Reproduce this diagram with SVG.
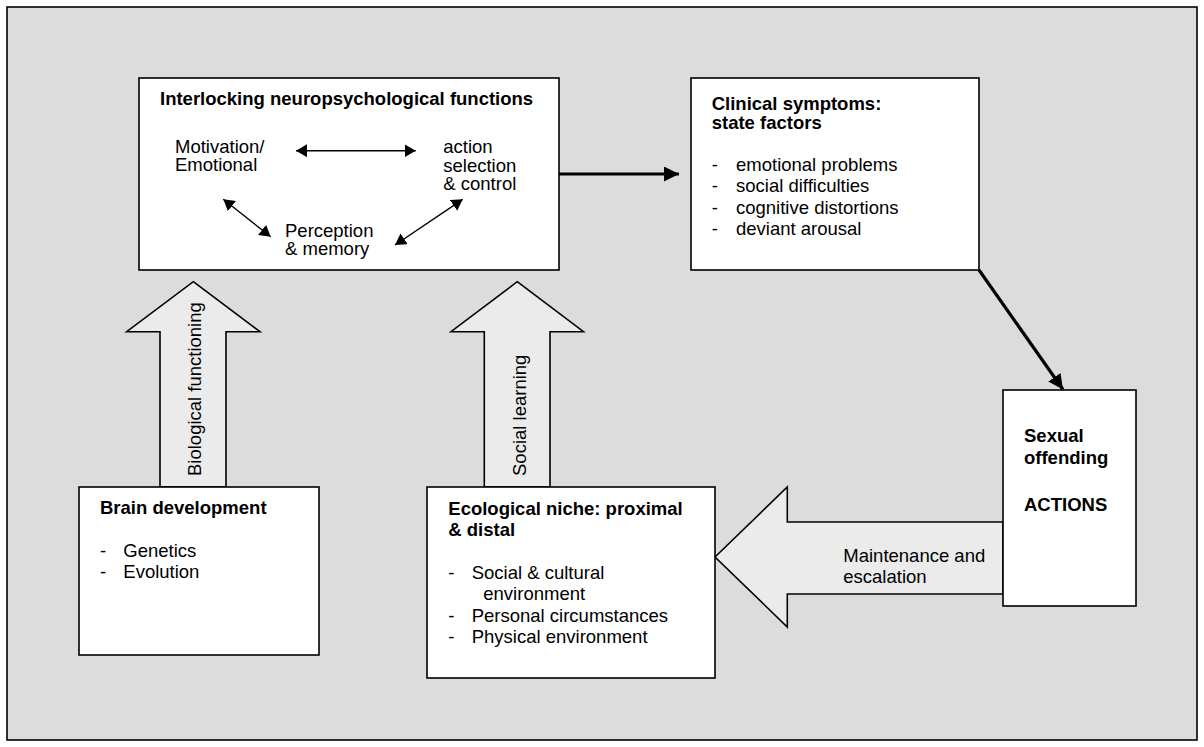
<svg xmlns="http://www.w3.org/2000/svg" width="1204" height="747" viewBox="0 0 1204 747">
<style>
text{font-family:"Liberation Sans",Arial,sans-serif;font-size:18.5px;fill:#000}
.b{font-weight:bold}
.box{fill:#fff;stroke:#000;stroke-width:1.6}
.blk{fill:#ebebeb;stroke:#000;stroke-width:1.6;stroke-linejoin:miter}
.thin{stroke:#000;stroke-width:1.4;fill:none}
.thick{stroke:#000;stroke-width:3.2;fill:none}
</style>
<defs>
<marker id="ah" markerUnits="userSpaceOnUse" viewBox="0 0 11 13" refX="11" refY="6.5" markerWidth="11" markerHeight="13" orient="auto-start-reverse">
<path d="M0,0 L11,6.5 L0,13 z" fill="#000"/>
</marker>
<marker id="ahb" markerUnits="userSpaceOnUse" viewBox="0 0 15 15" refX="15" refY="7.5" markerWidth="15" markerHeight="15" orient="auto">
<path d="M0,0 L15,7.5 L0,15 z" fill="#000"/>
</marker>
</defs>
<rect x="7" y="7" width="1190" height="733" fill="#dcdcdc" stroke="#000" stroke-width="1.6"/>

<g id="connectors">
<polygon id="arrow-bio" class="blk" points="193.3,281.7 260,331.7 226,331.7 226,487 160,487 160,331.7 126.7,331.7"/>
<polygon id="arrow-social" class="blk" points="517.2,281.7 583.5,331.7 550,331.7 550,487 484.3,487 484.3,331.7 451,331.7"/>
<polygon id="arrow-maint" class="blk" points="715,557 787.3,487 787.3,522 1003,522 1003,594 787.3,594 787.3,627"/>
<line class="thick" x1="559" y1="174" x2="679" y2="174" marker-end="url(#ahb)"/>
<line class="thick" x1="979" y1="270" x2="1063" y2="389.5" marker-end="url(#ahb)"/>
</g>

<g id="node-neuro">
<rect class="box" x="139" y="78" width="420" height="192"/>
<text class="b" x="160" y="105">Interlocking neuropsychological functions</text>
<text x="175" y="153">Motivation/</text>
<text x="175" y="171">Emotional</text>
<text x="443.3" y="153">action</text>
<text x="443.3" y="171.5">selection</text>
<text x="443.3" y="190">&amp; control</text>
<text x="285" y="237">Perception</text>
<text x="285" y="255">&amp; memory</text>
<line class="thin" x1="296" y1="150.7" x2="415.7" y2="150.7" marker-start="url(#ah)" marker-end="url(#ah)"/>
<line class="thin" x1="223.3" y1="199.3" x2="270.7" y2="236.7" marker-start="url(#ah)" marker-end="url(#ah)"/>
<line class="thin" x1="395" y1="245" x2="462.7" y2="199.3" marker-start="url(#ah)" marker-end="url(#ah)"/>
</g>

<g id="node-clinical">
<rect class="box" x="691" y="78" width="288" height="192"/>
<text class="b" x="711.7" y="110">Clinical symptoms:</text>
<text class="b" x="711.7" y="129">state factors</text>
<text x="711.7" y="171">-</text><text x="736" y="171">emotional problems</text>
<text x="711.7" y="192.3">-</text><text x="736" y="192.3">social difficulties</text>
<text x="711.7" y="213.6">-</text><text x="736" y="213.6">cognitive distortions</text>
<text x="711.7" y="234.9">-</text><text x="736" y="234.9">deviant arousal</text>
</g>

<g id="node-offending">
<rect class="box" x="1003" y="390" width="133" height="216"/>
<text class="b" x="1024" y="442">Sexual</text>
<text class="b" x="1024" y="464">offending</text>
<text class="b" x="1024" y="510.5">ACTIONS</text>
</g>

<g id="node-brain">
<rect class="box" x="79" y="487" width="240" height="168"/>
<text class="b" x="100" y="514">Brain development</text>
<text x="100" y="556.7">-</text><text x="123.3" y="556.7">Genetics</text>
<text x="100" y="578.3">-</text><text x="123.3" y="578.3">Evolution</text>
</g>

<g id="node-ecological">
<rect class="box" x="427" y="487" width="288" height="191"/>
<text class="b" x="448.3" y="515">Ecological niche: proximal</text>
<text class="b" x="448.3" y="536">&amp; distal</text>
<text x="448.3" y="579.3">-</text><text x="471.7" y="579.3">Social &amp; cultural</text>
<text x="483.3" y="600">environment</text>
<text x="448.3" y="621.7">-</text><text x="471.7" y="621.7">Personal circumstances</text>
<text x="448.3" y="642.7">-</text><text x="471.7" y="642.7">Physical environment</text>
</g>

<g id="labels">
<text transform="translate(201.3,476) rotate(-90)">Biological functioning</text>
<text transform="translate(525.5,476) rotate(-90)">Social learning</text>
<text x="843.3" y="561.7">Maintenance and</text>
<text x="843.3" y="582.7">escalation</text>
</g>
</svg>
